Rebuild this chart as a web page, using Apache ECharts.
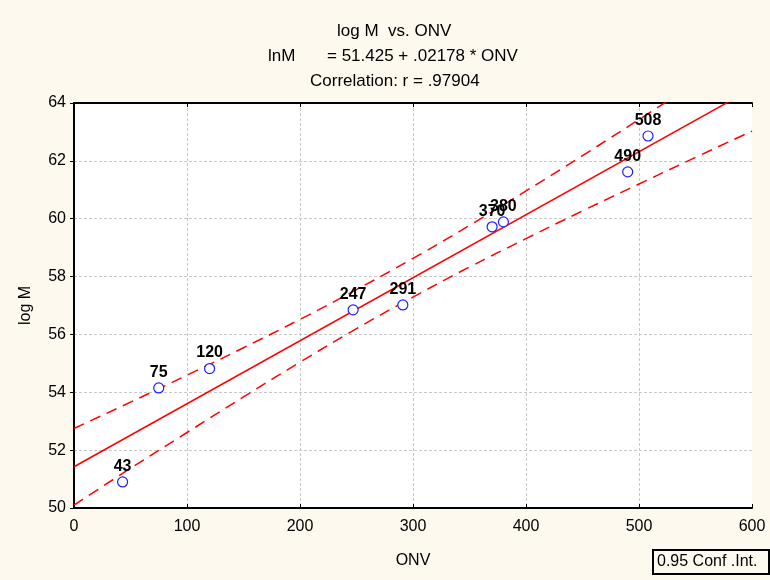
<!DOCTYPE html>
<html>
<head>
<meta charset="utf-8">
<script src="https://cdn.jsdelivr.net/npm/echarts@6/dist/echarts.min.js"></script>
<style>
  html, body { margin: 0; padding: 0; background: #fdf9ef; }
  #main { width: 770px; height: 580px; }
</style>
</head>
<body>
<div id="main"></div>
<script>
// observed points (ONV, log M)
var onv = [43, 75, 120, 247, 291, 370, 380, 490, 508];
var logM = [50.90, 54.15, 54.82, 56.85, 57.02, 59.72, 59.89, 61.62, 62.86];

// fitted line, lnM = 51.425 + .02178 * ONV
var fitX = [0, 600];
var fitY = [51.425, 64.493];

// 0.95 confidence band
var bandX = [0, 50, 100, 150, 200, 250, 300, 350, 400, 450, 500, 550, 600];
var bandUpper = [52.75, 53.66, 54.59, 55.54, 56.52, 57.55, 58.63, 59.77, 60.96, 62.18, 63.43, 64.69, 65.95];
var bandLower = [50.10, 51.37, 52.61, 53.84, 55.04, 56.20, 57.29, 58.33, 59.31, 60.27, 61.20, 62.12, 63.03];

var font = 'Liberation Sans';
var txt = { fontFamily: font, fontSize: 17, fontWeight: 'normal', color: '#000' };

function pairs(xs, ys) {
    return xs.map(function (x, i) { return [x, ys[i]]; });
}

var myChart = echarts.init(document.getElementById('main'));

var frame = { show: true, lineStyle: { color: '#000', width: 2 } };
var grayGrid = { show: true, showMinLine: false, showMaxLine: false,
                 lineStyle: { color: '#c8c8c8', type: [3, 2] } };

var option = {
    backgroundColor: '#fdf9ef',
    animation: false,
    title: [
        { text: 'log M  vs. ONV', left: 332, top: 18, textStyle: txt },
        { text: 'lnM', left: 263, top: 43, textStyle: txt },
        { text: '= 51.425 + .02178 * ONV', left: 322, top: 43, textStyle: txt },
        { text: 'Correlation: r = .97904', left: 305, top: 68, textStyle: txt },
        { text: '0.95 Conf .Int.', left: 653, top: 550,
          padding: [4, 12, 4, 4], borderColor: '#000', borderWidth: 2,
          textStyle: { fontFamily: font, fontSize: 16, fontWeight: 'normal', color: '#000' } }
    ],
    grid: {
        left: 74, right: 18, top: 103, bottom: 72,
        show: true, backgroundColor: '#fff', borderWidth: 0
    },
    xAxis: [{
        type: 'value', min: 0, max: 600, interval: 100,
        name: 'ONV', nameLocation: 'middle', nameGap: 45,
        nameTextStyle: { fontFamily: font, fontSize: 16, color: '#000' },
        axisLine: frame,
        axisTick: { show: true, inside: true, length: 4, lineStyle: { color: '#000' } },
        axisLabel: { fontFamily: font, fontSize: 16, color: '#000', margin: 11 },
        splitLine: grayGrid
    }, {
        type: 'value', position: 'top', min: 0, max: 600, interval: 100,
        axisLine: frame,
        axisTick: { show: true, inside: true, length: 4, lineStyle: { color: '#000' } },
        axisLabel: { show: false },
        splitLine: { show: false }
    }],
    yAxis: [{
        type: 'value', min: 50, max: 64, interval: 2,
        name: 'log M', nameLocation: 'middle', nameGap: 40,
        nameTextStyle: { fontFamily: font, fontSize: 16, color: '#000' },
        axisLine: frame,
        axisTick: { show: true, inside: false, length: 4, lineStyle: { color: '#000' } },
        axisLabel: { fontFamily: font, fontSize: 16, color: '#000', margin: 8 },
        splitLine: grayGrid
    }, {
        type: 'value', position: 'right', min: 50, max: 64, interval: 2,
        axisLine: frame,
        axisTick: { show: false },
        axisLabel: { show: false },
        splitLine: { show: false }
    }],
    series: [
        {
            name: 'upper', type: 'line', data: pairs(bandX, bandUpper),
            smooth: true, showSymbol: false, clip: true,
            lineStyle: { color: '#ff0000', width: 1.5, type: [11, 7] }
        },
        {
            name: 'lower', type: 'line', data: pairs(bandX, bandLower),
            smooth: true, showSymbol: false, clip: true,
            lineStyle: { color: '#ff0000', width: 1.5, type: [11, 7] }
        },
        {
            name: 'fit', type: 'line', data: pairs(fitX, fitY),
            showSymbol: false, clip: true,
            lineStyle: { color: '#ff0000', width: 1.5 }
        },
        {
            name: 'points', type: 'scatter', data: pairs(onv, logM),
            symbol: 'circle', symbolSize: 10,
            itemStyle: { color: '#fff', borderColor: '#1f1fff', borderWidth: 1.2, opacity: 1 },
            label: {
                show: true, position: 'top', distance: 2,
                formatter: function (p) { return String(p.value[0]); },
                fontFamily: font, fontSize: 16, fontWeight: 'bold',
                color: '#000', opacity: 1, textBorderWidth: 0
            },
            z: 5
        }
    ]
};

myChart.setOption(option);
</script>
</body>
</html>
